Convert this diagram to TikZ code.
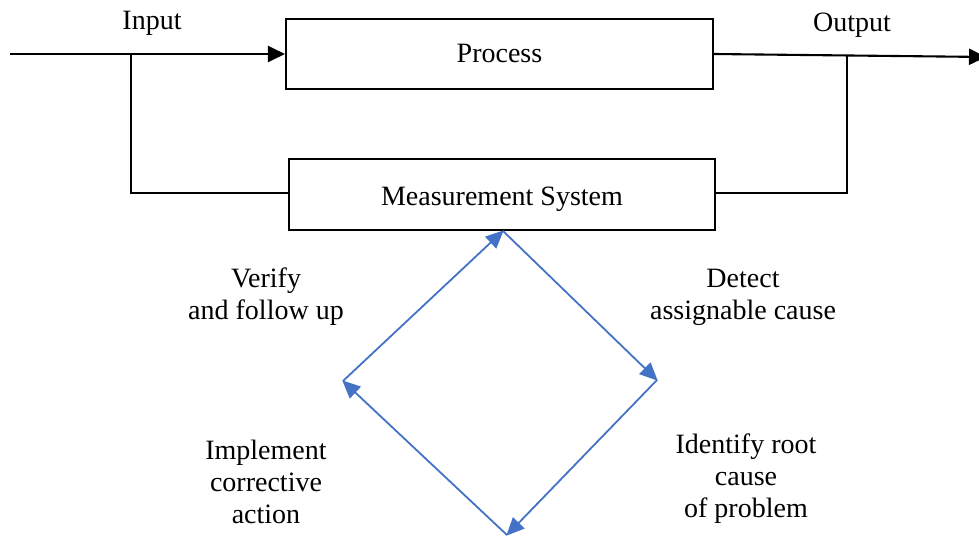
\documentclass[tikz,border=0pt]{standalone}
\usepackage{fontspec}
\setmainfont{Liberation Serif}
\usetikzlibrary{arrows.meta}
\definecolor{cycblue}{RGB}{68,114,196}
\tikzset{
  box/.style={draw=black, line width=2.1pt, minimum width=#1, minimum height=70pt, inner sep=0pt, font=\fontsize{28}{32}\selectfont},
  wire/.style={line width=2.1pt, black},
  flow/.style={wire, -{Triangle[length=17pt,width=16pt]}},
  cyc/.style={line width=1.8pt, cycblue, -{Triangle[length=18pt,width=16pt]}, shorten >=-1pt},
  lbl/.style={align=center, font=\fontsize{28}{32}\selectfont, inner sep=0pt}
}
\begin{document}
\begin{tikzpicture}[x=1pt,y=-1pt]
\useasboundingbox (0,0) rectangle (979,538);
% boxes
\node[box=427pt, text height=20pt, text depth=3.5pt] (proc) at (499.5,54) {Process};
\node[box=426pt, minimum height=71pt, text height=22pt, text depth=1pt] (meas) at (502,194.5) {Measurement System};
% input side
\coordinate (inS) at (10,54);
\coordinate (inJ) at (131,54);
\coordinate (inD) at (131,193);
\draw[flow] (inS) -- (proc.west);
\draw[wire] (inJ) -- (inD) -- (inD -| meas.west);
% output side
\coordinate (outE) at (986,57);
\coordinate (outJ) at (847,55);
\coordinate (outD) at (847,193);
\draw[flow] (proc.east) -- (outE);
\draw[wire] (outJ) -- (outD) -- (outD -| meas.east);
% labels
\node[lbl] (input) at (152,23) {Input};
\node[lbl] (output) at (852,25) {Output};
% cycle
\coordinate (top) at (503,231);
\coordinate (right) at (657,380);
\coordinate (bottom) at (507,535);
\coordinate (left) at (343,381);
\draw[cyc] (left) -- (top);
\draw[cyc] (top) -- (right);
\draw[cyc] (right) -- (bottom);
\draw[cyc] (bottom) -- (left);
\node[lbl] (verify) at (266,297) {Verify\\and follow up};
\node[lbl] (detect) at (743,297) {Detect\\assignable cause};
\node[lbl] (impl) at (266,482) {Implement\\corrective\\action};
\node[lbl] (ident) at (746,479) {Identify root\\cause\\of problem};
\end{tikzpicture}
\end{document}
